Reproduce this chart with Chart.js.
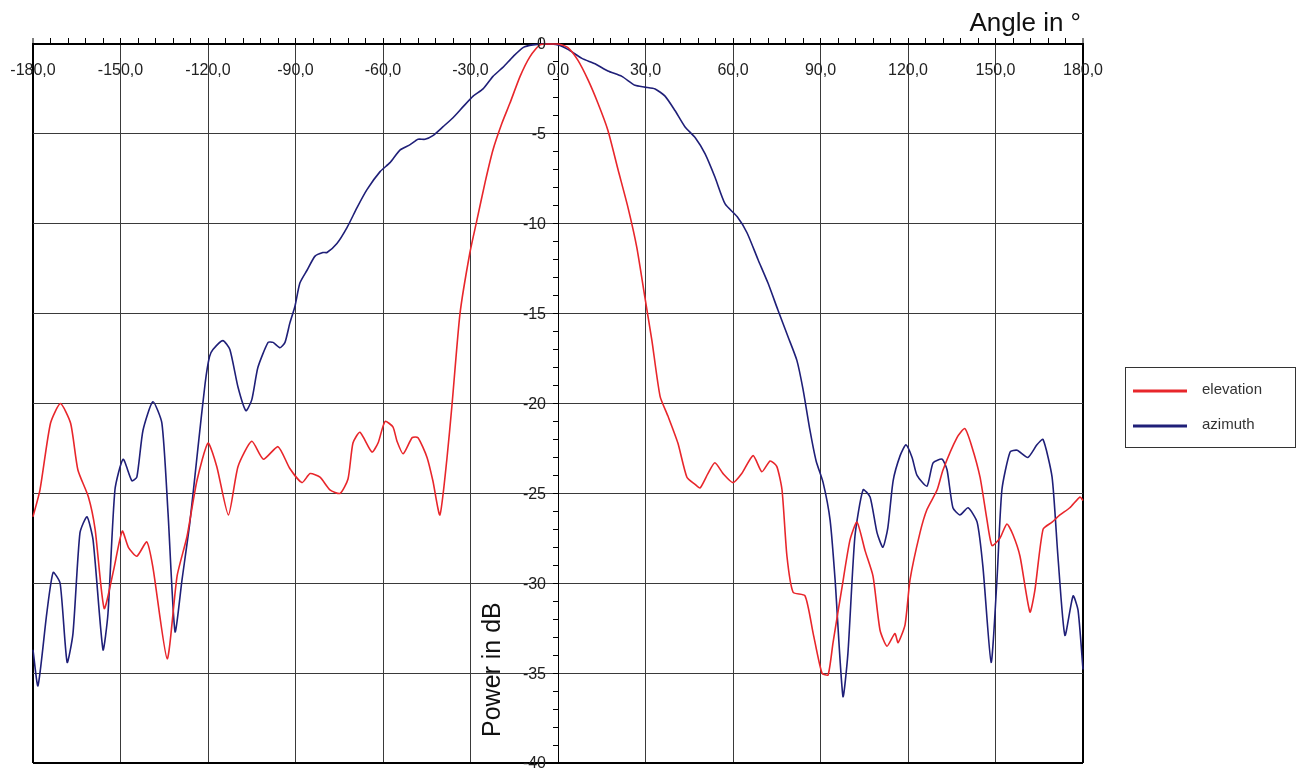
<!DOCTYPE html>
<html>
<head>
<meta charset="utf-8">
<script src="https://cdn.jsdelivr.net/npm/chart.js@4.4.1/dist/chart.umd.min.js"></script>
<style>
html,body{margin:0;padding:0;background:#fff;}
</style>
</head>
<body>
<canvas id="patternChart" width="1301" height="772"></canvas>
<script>
// angle in degrees / power in dB
const elevAngle = [-180,-177.6,-174,-170.6,-167.1,-164.6,-161,-158.7,-155.6,-152.4,-149.4,-147.3,-144.4,-141,-138.9,-134,-130.6,-127.2,-123.8,-120,-117,-113,-109.7,-105,-101,-96,-92,-87.8,-85,-81.6,-78.2,-74.7,-72,-70.3,-67.9,-63.8,-61.7,-59.3,-56.6,-55.2,-53.1,-50,-48,-44.9,-42.9,-40.5,-38.1,-36.3,-33.6,-30.2,-27.8,-25,-22.3,-19.2,-16.5,-13,-9.6,-6.2,-3,0,3.4,6.8,10.3,13.7,17.1,20.6,24,27,29.8,32.2,35,37.7,41.1,44.2,47,48.7,51.4,53.8,56.6,60,63,66.9,69.9,72.7,75,76.8,78.5,80.6,84.7,87.5,90.5,92.6,94.3,97.4,100.1,102.5,105.3,108,110.4,112.8,115.5,116.6,119,120.7,124.1,126.5,130,132,136.8,139.5,141.9,144.7,147.1,148.8,151.5,153.9,156,158.4,161.8,163.5,166.3,169.4,172.1,175.5,179,180];
const elevPower = [-26.3,-24.8,-21.1,-20.0,-21.1,-23.7,-25.2,-27.0,-31.4,-29.3,-27.1,-28.0,-28.5,-27.7,-29.1,-34.2,-29.6,-27.4,-24.3,-22.2,-23.5,-26.2,-23.5,-22.1,-23.1,-22.4,-23.6,-24.4,-23.9,-24.1,-24.8,-25.0,-24.2,-22.2,-21.6,-22.7,-22.2,-21.0,-21.3,-22.1,-22.8,-21.9,-21.9,-23.0,-24.3,-26.2,-23.1,-20.0,-15.0,-11.6,-9.8,-7.7,-5.9,-4.4,-3.3,-1.8,-0.7,-0.05,0,0,-0.2,-0.9,-2.0,-3.3,-4.8,-7.0,-9.1,-11.3,-14.1,-16.5,-19.6,-20.7,-22.2,-24.1,-24.5,-24.7,-23.9,-23.3,-23.9,-24.4,-23.9,-22.9,-23.8,-23.2,-23.5,-24.8,-28.5,-30.5,-30.7,-32.8,-35.0,-35.1,-33.3,-30.2,-27.6,-26.6,-28.2,-29.6,-32.6,-33.5,-32.8,-33.3,-32.3,-29.8,-27.2,-25.9,-24.8,-23.7,-21.9,-21.4,-22.4,-24.1,-26.5,-27.9,-27.5,-26.7,-27.3,-28.5,-31.6,-30.4,-27.0,-26.6,-26.2,-25.8,-25.2,-25.4];

const azAngle = [-180,-178.3,-175.3,-173.1,-170.7,-168.3,-166.3,-163.9,-161.5,-159.4,-156,-154.3,-151.9,-149.1,-146.1,-144.4,-142.3,-138.9,-135.8,-133.7,-131.3,-128.9,-126.2,-123.4,-121,-119.5,-118.3,-114.9,-112.5,-109.7,-107,-105,-102.9,-99.4,-97.7,-95.3,-93.6,-91.9,-90.2,-88.5,-86.1,-83.3,-80.6,-79.2,-75.8,-72.3,-68.9,-65.5,-61,-57.6,-54.2,-50.7,-48,-45.6,-42.9,-39.4,-36,-32.6,-29.1,-25.7,-22.3,-18.9,-15.4,-12,-8.6,-4,0,3.4,8.2,12.7,17.1,21.9,26.4,29.8,33.3,36.7,40.1,43.5,47,50.4,53.8,57.3,61.4,64.8,68.6,72,75.4,78.9,81.9,84,86.4,88.5,90.9,93.3,95,97.7,99.4,101.8,104.6,107,109.4,111.4,113.1,114.9,117.3,119.3,121.4,123.1,126.5,128.6,131.7,133.4,135.4,137.8,140.6,143.7,145.7,148.5,150.5,152.2,155,157.4,161.1,164.2,166.3,169.4,171.4,173.8,176.6,178.3,180];
const azPower = [-33.7,-35.7,-31.7,-29.4,-30.0,-34.4,-32.8,-27.2,-26.3,-27.6,-33.7,-31.7,-24.8,-23.1,-24.3,-24.1,-21.5,-19.9,-21.1,-26.1,-32.7,-29.8,-26.6,-22.4,-18.9,-17.4,-17.0,-16.5,-17.0,-19.1,-20.4,-19.8,-18.0,-16.6,-16.6,-16.9,-16.6,-15.5,-14.6,-13.3,-12.6,-11.8,-11.6,-11.6,-11.1,-10.2,-9.1,-8.1,-7.1,-6.6,-5.9,-5.6,-5.3,-5.3,-5.1,-4.6,-4.1,-3.5,-2.9,-2.5,-1.8,-1.3,-0.7,-0.2,-0.05,0,-0.05,-0.3,-0.8,-1.1,-1.5,-1.8,-2.3,-2.4,-2.5,-2.9,-3.7,-4.6,-5.2,-6.1,-7.4,-8.9,-9.6,-10.5,-12.0,-13.3,-14.8,-16.3,-17.6,-19.2,-21.5,-23.2,-24.4,-26.5,-29.8,-36.3,-33.9,-27.4,-24.8,-25.2,-27.2,-28.0,-26.9,-24.3,-22.9,-22.3,-23.0,-24.0,-24.6,-23.3,-23.1,-23.7,-25.8,-26.2,-25.8,-26.6,-29.1,-34.4,-29.8,-24.8,-22.7,-22.6,-23.0,-22.3,-22.0,-24.1,-28.5,-32.9,-30.7,-31.5,-34.8];

const majorAngles = [-180,-150,-120,-90,-60,-30,0,30,60,90,120,150,180];
const powerLabels = [0,-5,-10,-15,-20,-25,-30,-35,-40];

const FONT = '"Liberation Sans", Arial, Helvetica, sans-serif';

/* tick labels inside the plot, legend box, axis titles */
const extras = {
id:'extras',
afterDraw(chart){
const c = chart.ctx;
const xs = chart.scales.x;
const ys = chart.scales.y;
const x0 = xs.getPixelForValue(0);
c.save();
c.fillStyle = '#222';
c.font = '16px ' + FONT;
c.textBaseline = 'middle';
c.textAlign = 'center';
majorAngles.forEach(a => {
c.fillText(a.toFixed(1).replace('.', ','), xs.getPixelForValue(a), 71);
});
c.textAlign = 'right';
powerLabels.forEach(p => {
c.fillText(String(p), x0 - 12, ys.getPixelForValue(p) + 1);
});

c.fillStyle = '#111';
c.font = '26px ' + FONT;
c.textAlign = 'right';
c.textBaseline = 'alphabetic';
c.fillText('Angle in °', 1081, 31);

c.save();
c.translate(500, 737);
c.rotate(-Math.PI/2);
c.textAlign = 'left';
c.font = '25px ' + FONT;
c.fillText('Power in dB', 0, 0);
c.restore();

c.strokeStyle = '#333';
c.lineWidth = 1;
c.strokeRect(1125.5, 367.5, 170, 80);
chart.data.datasets.forEach((ds, i) => {
const y = 391 + i * 35;
c.strokeStyle = ds.borderColor;
c.lineWidth = 3;
c.beginPath();
c.moveTo(1133, y);
c.lineTo(1187, y);
c.stroke();
c.fillStyle = '#333';
c.font = '15px ' + FONT;
c.textAlign = 'left';
c.textBaseline = 'middle';
c.fillText(ds.label, 1202, y - 1);
});
c.restore();
}
};

new Chart(document.getElementById('patternChart'), {
type:'line',
data:{
datasets:[{
label:'elevation',
data: elevAngle.map((a, i) => ({x:a, y:elevPower[i]})),
borderColor:'#e8262b',
borderWidth:1.6,
pointRadius:0,
tension:0.2,
clip:3
},{
label:'azimuth',
data: azAngle.map((a, i) => ({x:a, y:azPower[i]})),
borderColor:'#1f1f78',
borderWidth:1.6,
pointRadius:0,
tension:0.2,
clip:3
}]
},
options:{
responsive:false,
animation:false,
layout:{padding:{left:33, right:218, top:0, bottom:9}},
plugins:{legend:{display:false}, tooltip:{enabled:false}},
scales:{
x:{
type:'linear',
position:'top',
min:-180,
max:180,
afterFit(s){ s.height = 44; },
border:{display:true, color:'#000', width:2},
grid:{
color: ctx => ctx.tick && ctx.tick.value % 30 === 0 ? (Math.abs(ctx.tick.value) === 180 ? '#000' : '#3a3a3a') : 'rgba(0,0,0,0)',
lineWidth: ctx => ctx.tick && Math.abs(ctx.tick.value) === 180 ? 2 : 1,
tickColor:'#000',
tickLength:6,
tickWidth:1
},
ticks:{
stepSize:6,
autoSkip:false,
display:false
}
},
y:{
type:'linear',
position:{x:0},
min:-40,
max:0,
afterFit(s){ s.width = 6; },
border:{display:true, color:'#000', width:1},
grid:{
color: ctx => ctx.tick && ctx.tick.value % 5 === 0 ? (ctx.tick.value === -40 ? '#000' : '#3a3a3a') : 'rgba(0,0,0,0)',
lineWidth: ctx => ctx.tick && ctx.tick.value === -40 ? 2 : 1,
tickColor:'#000',
tickLength:5,
tickWidth:1
},
ticks:{
stepSize:1,
autoSkip:false,
display:false
}
}
}
},
plugins:[extras]
});
</script>
</body>
</html>
